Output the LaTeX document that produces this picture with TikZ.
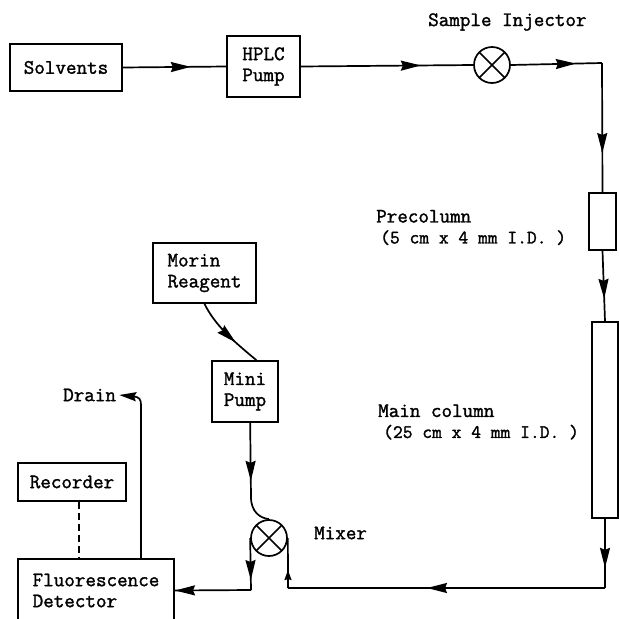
\documentclass[tikz,border=0pt]{standalone}
\usepackage{fontspec}
\setmonofont[RawFeature={embolden=1.5}]{Latin Modern Mono}
\usepackage{tikz}
\usetikzlibrary{arrows.meta,decorations.markings}

\begin{document}
\begin{tikzpicture}[
  x=1pt, y=-1pt,
  font=\ttfamily\fontsize{20.5}{21}\selectfont,
  box/.style={draw, line width=1.7pt, align=left, inner sep=0pt, minimum width=#1},
  box/.default=66pt,
  tube/.style={draw, line width=1.7pt, inner sep=0pt, minimum width=#1},
  valve/.style={draw, line width=1.7pt, circle, minimum size=36pt, inner sep=0pt,
    path picture={\draw[line width=1.7pt] (path picture bounding box.north west) -- (path picture bounding box.south east)
      (path picture bounding box.north east) -- (path picture bounding box.south west);}},
  lbl/.style={align=left, inner sep=0pt, anchor=west},
  flow/.style={line width=1.7pt, postaction={decorate}, decoration={markings,
    mark=at position #1 with {\arrow{Stealth[length=20pt, width=10pt, inset=2pt]}}}},
  flowsmall/.style={line width=1.7pt, postaction={decorate}, decoration={markings,
    mark=at position #1 with {\arrow{Stealth[length=10pt, width=7pt, inset=1pt]}}}},
  >={Stealth[length=17pt, width=9pt, inset=2pt]},
]
\useasboundingbox (0,0) rectangle (619,619);

\node[box=112pt, minimum height=47pt] (sol) at (66,67.5) {Solvents};
\node[box=73pt, minimum height=61pt] (hplc) at (263.5,66.5) {HPLC\\Pump};
\node[valve] (inj) at (492,65) {};
\node[lbl] (injl) at (428,22) {Sample Injector};
\coordinate (c1) at (602,63);

\node[tube=27pt, minimum height=57pt] (pre) at (602.5,221.5) {};
\node[tube=26pt, minimum height=196pt] (col) at (605,420) {};
\node[lbl] (prel) at (376,227.5) {Precolumn\\\hspace*{4pt}\fontsize{19}{21}\selectfont(5 cm x 4 mm I.D. )};
\node[lbl] (coll) at (378,422) {Main column\\\hspace*{5pt}\fontsize{19}{21}\selectfont(25 cm x 4 mm I.D. )};
\coordinate (c2) at (605,588);

\node[box=103pt, minimum height=60pt] (mor) at (204.5,273) {Morin\\Reagent};
\node[box, minimum height=61pt] (pump) at (245,391.5) {Mini\\Pump};
\node[valve] (mix) at (269,538) {};
\node[lbl] (mixl) at (314,533) {Mixer};
\coordinate (c3) at (288,588);
\coordinate (c4) at (251,590);

\node[box=108pt, minimum height=38pt] (rec) at (72,482) {Recorder};
\node[box=156pt, minimum height=63pt] (det) at (96,590.5) {Fluorescence\\Detector};
\node[lbl] (drn) at (63,395) {Drain};
\coordinate (c5) at (141,405);

\draw[flow=68pt] (sol.east) -- (hplc.west);
\draw[flow=120pt] (hplc.east) -- (inj.west);
\draw[flow=65pt] (inj.east) -- (c1);
\draw[flow=90pt] (c1) -- (pre.north);
\draw[flow=48pt] (pre.south) -- (col.north);
\draw[flow=49pt] (col.south) -- (c2);
\draw[flow=178pt] (c2) -- (c3);
\draw[flowsmall=18pt] (c3) -- (mix.east);
\draw[flow=50pt] (mor.south) .. controls (215,325) and (232,340) .. (pump.70);
\draw[flow=58pt] (mix.west |- pump.south) -- (251,497) .. controls (251,512) and (260,518) .. (mix.north);
\draw[flow=42pt] (mix.west) -- (c4);
\draw[flow=76pt] (c4) -- (det.east);
\draw[dash pattern=on 7pt off 4pt, line width=1.7pt] ([xshift=7pt]rec.south) -- ([xshift=-17pt]det.north);
\draw[->, line width=1.7pt] ([xshift=45pt]det.north) -- (c5) .. controls (141,399) and (139,397) .. ([xshift=3pt]drn.east);
\end{tikzpicture}
\end{document}
